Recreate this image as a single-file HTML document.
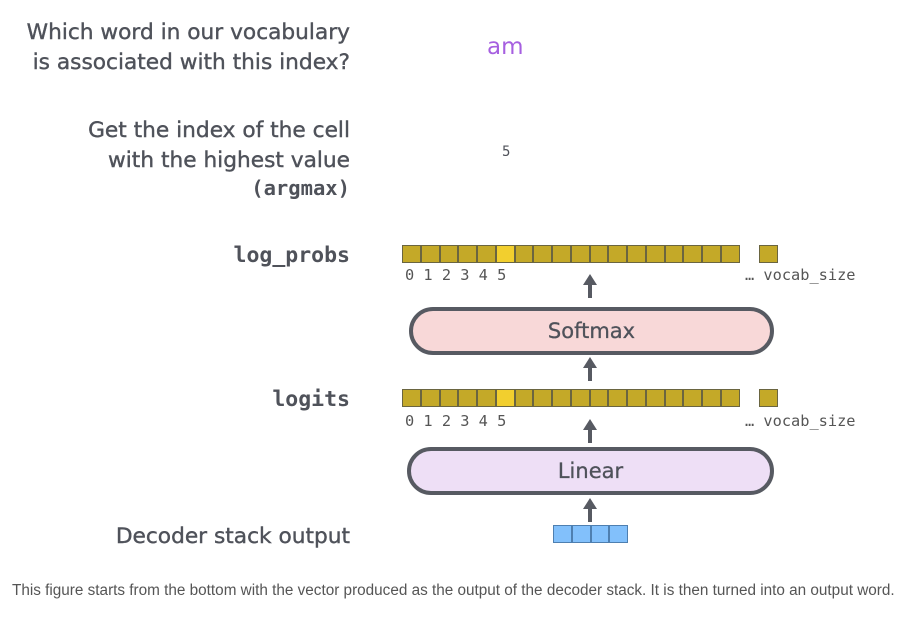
<!DOCTYPE html>
<html><head><style>
body{margin:0;width:924px;height:621px;background:#fff;overflow:hidden;position:relative;font-family:"DejaVu Sans","Liberation Sans",sans-serif;color:#4f525a}
.l{position:absolute;right:574px;text-align:right;font-size:21.7px;line-height:30px;-webkit-text-stroke:0.4px #4f525a}
.m{font-family:"DejaVu Sans Mono","Liberation Mono",monospace;font-weight:bold;-webkit-text-stroke:0}
.row{position:absolute;left:402px;height:18px;display:flex}
.row div{width:18.8px;height:18px;box-sizing:border-box;border:1px solid #6a6540;background:#c4a928;margin-right:-0.05px}
.row div.h{background:#f2cf2e}
.num{position:absolute;font-family:"DejaVu Sans Mono","Liberation Mono",monospace;font-size:15.3px;color:#555}
.box{position:absolute;border:4px solid #575a62;border-radius:26px;text-align:center;font-size:21px;color:#4f525a;box-sizing:border-box;-webkit-text-stroke:0.3px #4f525a}
.arr{position:absolute;width:0;height:0;border-left:7px solid transparent;border-right:7px solid transparent;border-bottom:11px solid #575a62}
.sh{position:absolute;width:4px;background:#575a62}
</style></head><body>
<div class="l" style="top:18px">Which word in our vocabulary<br>is associated with this index?</div>
<div style="position:absolute;left:487px;top:34px;font-size:23px;color:#a65fe0">am</div>
<div class="l" style="top:116px">Get the index of the cell<br>with the highest value</div>
<div class="l m" style="top:173px;font-size:20.5px">(argmax)</div>
<div style="position:absolute;left:502px;top:144px;font-size:14px;font-family:'DejaVu Sans Mono',monospace">5</div>
<div class="l m" style="top:241px;font-size:21.5px">log_probs</div>
<div class="row" style="top:245px"><div></div><div></div><div></div><div></div><div></div><div class="h"></div><div></div><div></div><div></div><div></div><div></div><div></div><div></div><div></div><div></div><div></div><div></div><div></div></div>
<div class="row" style="top:245px;left:759px"><div></div></div>
<div class="num" style="left:405px;top:266px">0 1 2 3 4 5</div>
<div class="num" style="left:745px;top:266px">… vocab_size</div>
<div class="arr" style="left:583px;top:274px"></div><div class="sh" style="left:588px;top:284px;height:14px"></div>
<div class="box" style="left:409px;top:307px;width:365px;height:48px;background:#f8d8d8;line-height:41px">Softmax</div>
<div class="arr" style="left:583px;top:357px"></div><div class="sh" style="left:588px;top:367px;height:14px"></div>
<div class="l m" style="top:385px;font-size:21.5px">logits</div>
<div class="row" style="top:389px"><div></div><div></div><div></div><div></div><div></div><div class="h"></div><div></div><div></div><div></div><div></div><div></div><div></div><div></div><div></div><div></div><div></div><div></div><div></div></div>
<div class="row" style="top:389px;left:759px"><div></div></div>
<div class="num" style="left:405px;top:412px">0 1 2 3 4 5</div>
<div class="num" style="left:745px;top:412px">… vocab_size</div>
<div class="arr" style="left:583px;top:419px"></div><div class="sh" style="left:588px;top:429px;height:14px"></div>
<div class="box" style="left:407px;top:447px;width:367px;height:48px;background:#eedff6;line-height:41px">Linear</div>
<div class="arr" style="left:583px;top:498px"></div><div class="sh" style="left:588px;top:508px;height:14px"></div>
<div class="row" style="top:525px;left:553px"><div style="background:#82c0fb;border-color:#4e7fb0"></div><div style="background:#82c0fb;border-color:#4e7fb0"></div><div style="background:#82c0fb;border-color:#4e7fb0"></div><div style="background:#82c0fb;border-color:#4e7fb0"></div></div>
<div class="l" style="top:522px">Decoder stack output</div>
<div style="position:absolute;left:12px;top:582px;font-family:'Liberation Sans',Arial,sans-serif;font-size:15.3px;color:#555">This figure starts from the bottom with the vector produced as the output of the decoder stack. It is then turned into an output word.</div>
</body></html>
